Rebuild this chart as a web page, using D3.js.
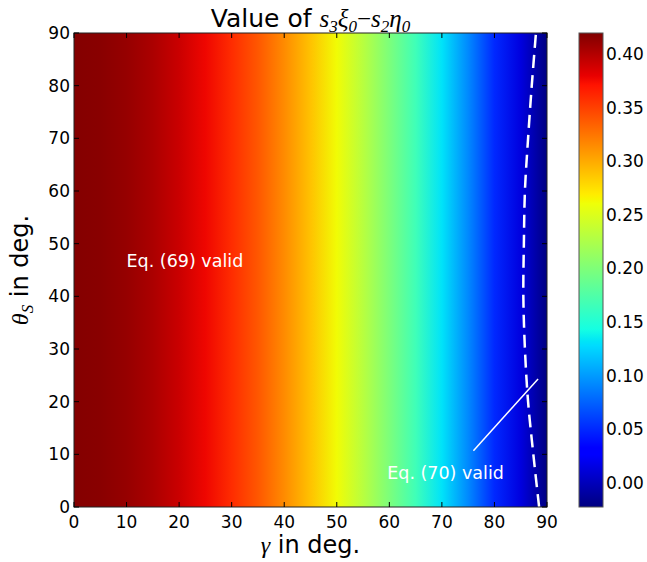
<!DOCTYPE html>
<html>
<head>
<meta charset="utf-8">
<script src="https://d3js.org/d3.v7.min.js"></script>
<style>
  body { margin: 0; background: #fff; }
  svg text { font-family: "DejaVu Sans", sans-serif; fill: #000; }
  .math { font-family: "Liberation Serif", serif; font-style: italic; }
</style>
</head>
<body>
<script>
// field value read along gamma (deg), every 5 deg (hardly changes with theta)
var gammaDeg = [0, 5, 10, 15, 20, 25, 30, 35, 40, 45, 50, 55, 60, 65, 70, 75, 80, 85, 90];
var fieldVal = [0.418, 0.416, 0.411, 0.403, 0.391, 0.377, 0.359, 0.339, 0.315, 0.289,
                0.262, 0.231, 0.199, 0.166, 0.131, 0.092, 0.050, 0.014, -0.022];

// zero line (white dashed)
var zeroTheta = [0, 10, 20, 30, 40, 50, 60, 70, 80, 90];
var zeroGamma = [88.5, 87.4, 86.4, 85.8, 85.5, 85.6, 85.8, 86.4, 87.1, 87.9];

// pointer line and labels
var pointerGamma = [76.0, 88.3];
var pointerTheta = [10.7, 24.3];
var noteText = ["Eq. (69) valid", "Eq. (70) valid"];
var noteGamma = [10, 59.6];
var noteTheta = [45.5, 5.3];

var xTicks = [0, 10, 20, 30, 40, 50, 60, 70, 80, 90];
var yTicks = [0, 10, 20, 30, 40, 50, 60, 70, 80, 90];
var cbTicks = [0.00, 0.05, 0.10, 0.15, 0.20, 0.25, 0.30, 0.35, 0.40];
var cbRange = [-0.0224, 0.4196];

var W = 647, H = 562;
var L = 74, R = 547, T = 33, B = 507;
var cbL = 579, cbR = 603;

var svg = d3.select("body").append("svg")
    .attr("width", W).attr("height", H);
var defs = svg.append("defs");

var x = d3.scaleLinear().domain([0, 90]).range([L, R]);
var y = d3.scaleLinear().domain([0, 90]).range([B, T]);
var cy = d3.scaleLinear().domain(cbRange).range([B, T]);
var norm = d3.scaleLinear().domain(cbRange).range([0, 1]).clamp(true);

// jet colormap
var jr = d3.scaleLinear().domain([0, 0.35, 0.66, 0.89, 1]).range([0, 0, 1, 1, 0.5]).clamp(true);
var jg = d3.scaleLinear().domain([0, 0.125, 0.375, 0.64, 0.91, 1]).range([0, 0, 1, 1, 0, 0]).clamp(true);
var jb = d3.scaleLinear().domain([0, 0.11, 0.34, 0.65, 1]).range([0.5, 1, 1, 0, 0]).clamp(true);
function jet(t) {
  return d3.rgb(jr(t) * 255, jg(t) * 255, jb(t) * 255).formatHex();
}
var jetKnots = [0, 0.11, 0.125, 0.34, 0.35, 0.375, 0.64, 0.65, 0.66, 0.89, 0.91, 1];

// heatmap gradient
var hg = defs.append("linearGradient").attr("id", "field")
    .attr("gradientUnits", "userSpaceOnUse")
    .attr("x1", x(0)).attr("x2", x(90)).attr("y1", 0).attr("y2", 0);
hg.selectAll("stop").data(gammaDeg).enter().append("stop")
    .attr("offset", function (d) { return (x(d) - L) / (R - L); })
    .attr("stop-color", function (d, i) { return jet(norm(fieldVal[i])); });

defs.append("clipPath").attr("id", "plotclip")
  .append("rect").attr("x", L).attr("y", T).attr("width", R - L).attr("height", B - T);

svg.append("rect")
    .attr("x", L).attr("y", T).attr("width", R - L).attr("height", B - T)
    .attr("fill", "url(#field)");

var plot = svg.append("g").attr("clip-path", "url(#plotclip)");

var zeroLine = d3.line()
    .x(function (d, i) { return x(zeroGamma[i]); })
    .y(function (d) { return y(d); })
    .curve(d3.curveCatmullRom);
plot.append("path")
    .attr("d", zeroLine(zeroTheta))
    .attr("fill", "none").attr("stroke", "#fff")
    .attr("stroke-width", 2.5).attr("stroke-dasharray", "13,7");

plot.append("line")
    .attr("x1", x(pointerGamma[0])).attr("y1", y(pointerTheta[0]))
    .attr("x2", x(pointerGamma[1])).attr("y2", y(pointerTheta[1]))
    .attr("stroke", "#fff").attr("stroke-width", 1.5);

svg.selectAll("text.note").data(noteText).enter().append("text")
    .attr("class", "note")
    .attr("x", function (d, i) { return x(noteGamma[i]); })
    .attr("y", function (d, i) { return y(noteTheta[i]); })
    .style("fill", "#fff").style("font-size", "17.5px")
    .text(function (d) { return d; });

// frame and ticks (inside, all sides)
svg.append("rect")
    .attr("x", L).attr("y", T).attr("width", R - L).attr("height", B - T)
    .attr("fill", "none").attr("stroke", "#222").attr("stroke-width", 1);

var tk = svg.append("g").attr("stroke", "#000").attr("stroke-width", 1);
xTicks.forEach(function (v) {
  tk.append("line").attr("x1", x(v)).attr("x2", x(v)).attr("y1", B).attr("y2", B - 5);
  tk.append("line").attr("x1", x(v)).attr("x2", x(v)).attr("y1", T).attr("y2", T + 5);
});
yTicks.forEach(function (v) {
  tk.append("line").attr("x1", L).attr("x2", L + 5).attr("y1", y(v)).attr("y2", y(v));
  tk.append("line").attr("x1", R).attr("x2", R - 5).attr("y1", y(v)).attr("y2", y(v));
});

svg.selectAll("text.xt").data(xTicks).enter().append("text")
    .attr("class", "xt")
    .attr("x", function (d) { return x(d); }).attr("y", B + 21)
    .attr("text-anchor", "middle").style("font-size", "17px")
    .text(function (d) { return d; });

svg.selectAll("text.yt").data(yTicks).enter().append("text")
    .attr("class", "yt")
    .attr("x", L - 4).attr("y", function (d) { return y(d) + 6; })
    .attr("text-anchor", "end").style("font-size", "17px")
    .text(function (d) { return d; });

// title
var title = svg.append("text")
    .attr("x", (L + R) / 2).attr("y", 27)
    .attr("text-anchor", "middle").style("font-size", "25px");
title.append("tspan").text("Value of ");
title.append("tspan").attr("class", "math").text("s");
title.append("tspan").attr("class", "math").attr("dy", 5).style("font-size", "17px").text("3");
title.append("tspan").attr("class", "math").attr("dy", -5).text("\u03be");
title.append("tspan").attr("class", "math").attr("dy", 5).style("font-size", "17px").text("0");
title.append("tspan").attr("dy", -5).style("font-family", "Liberation Serif").text("\u2212");
title.append("tspan").attr("class", "math").text("s");
title.append("tspan").attr("class", "math").attr("dy", 5).style("font-size", "17px").text("2");
title.append("tspan").attr("class", "math").attr("dy", -5).text("\u03b7");
title.append("tspan").attr("class", "math").attr("dy", 5).style("font-size", "17px").text("0");

// axis labels
var xl = svg.append("text")
    .attr("x", (L + R) / 2).attr("y", 553)
    .attr("text-anchor", "middle").style("font-size", "24px");
xl.append("tspan").attr("class", "math").text("\u03b3");
xl.append("tspan").text(" in deg.");

var yl = svg.append("text")
    .attr("transform", "translate(28," + ((T + B) / 2) + ") rotate(-90)")
    .attr("text-anchor", "middle").style("font-size", "24px");
yl.append("tspan").attr("class", "math").text("\u03b8");
yl.append("tspan").attr("class", "math").attr("dy", 5).style("font-size", "17px").text("S");
yl.append("tspan").attr("dy", -5).text(" in deg.");

// colorbar
var cg = defs.append("linearGradient").attr("id", "cbar")
    .attr("x1", 0).attr("x2", 0).attr("y1", 1).attr("y2", 0);
cg.selectAll("stop").data(jetKnots).enter().append("stop")
    .attr("offset", function (d) { return d; })
    .attr("stop-color", function (d) { return jet(d); });

svg.append("rect")
    .attr("x", cbL).attr("y", T).attr("width", cbR - cbL).attr("height", B - T)
    .attr("fill", "url(#cbar)").attr("stroke", "#555").attr("stroke-width", 1);

cbTicks.forEach(function (v) {
  tk.append("line").attr("x1", cbR).attr("x2", cbR - 4).attr("y1", cy(v)).attr("y2", cy(v));
});
svg.selectAll("text.ct").data(cbTicks).enter().append("text")
    .attr("class", "ct")
    .attr("x", cbR + 3).attr("y", function (d) { return cy(d) + 6; })
    .style("font-size", "17px")
    .text(function (d) { return d.toFixed(2); });
</script>
</body>
</html>
